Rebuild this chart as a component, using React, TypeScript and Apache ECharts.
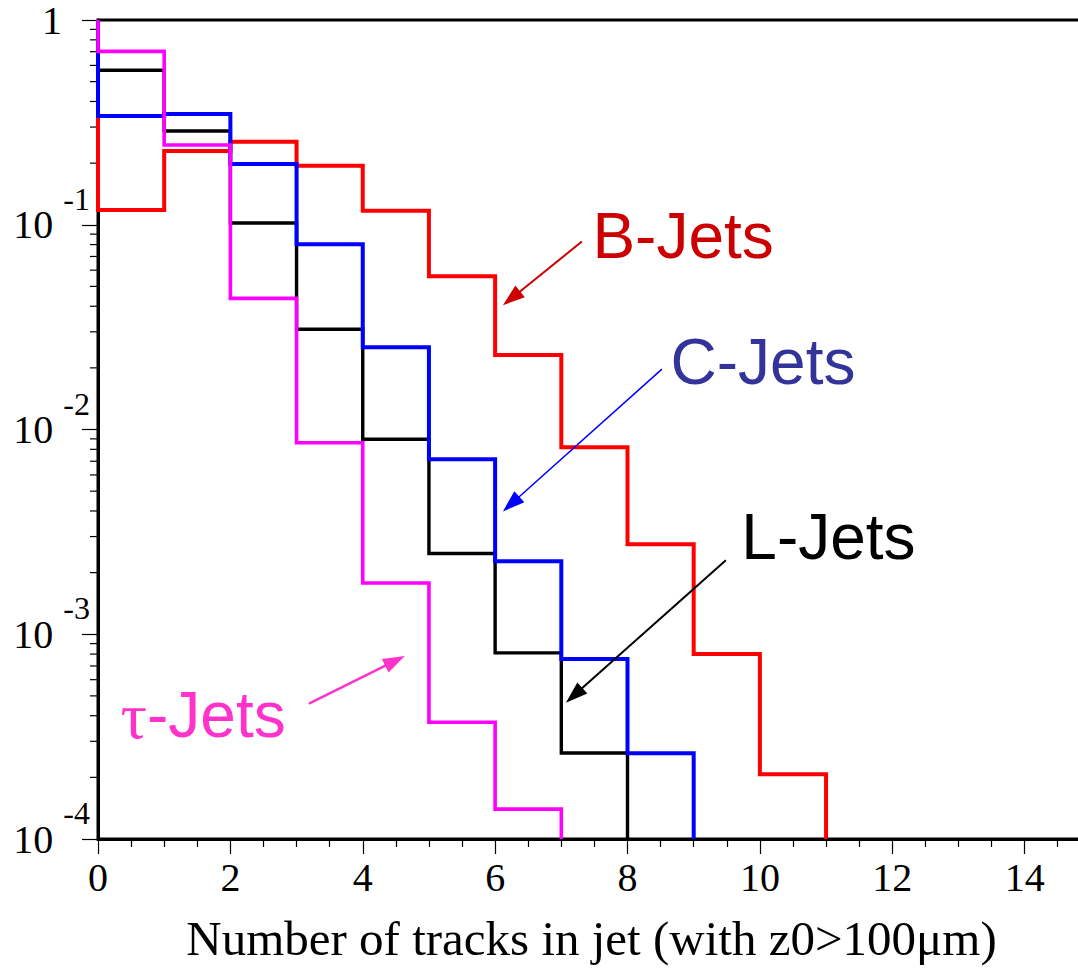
import React, { useEffect, useRef } from "react";
import * as echarts from "echarts";

// ---- Data: fraction of jets per bin (bin i covers [i, i+1) tracks) ----
const bJets = [0.118, 0.229, 0.254, 0.194, 0.117, 0.056, 0.0231, 0.00819, 0.00275, 0.000801, 0.000207];
const cJets = [0.34, 0.347, 0.198, 0.0803, 0.0252, 0.00716, 0.00227, 0.000758, 0.000262];
const lJets = [0.568, 0.287, 0.102, 0.0309, 0.00896, 0.00248, 0.000811, 0.000263];
const tauJets = [0.703, 0.245, 0.0437, 0.00861, 0.00178, 0.000372, 0.00014];

// ---- Axes ----
const xMin = 0;
const xMax = 16;
const xInterval = 2;
const yMin = 1e-4;
const yMax = 1;
const yDecades = [-4, -3, -2, -1];
const yMinorMultipliers = [2, 3, 4, 5, 6, 7, 8, 9];
const xTitle = "Number of tracks in jet (with z0>100\u03bcm)";

// ---- Annotations (data coords: x, log10 y) ----
const annotations = [
  { label: "B-Jets", color: "#cc0000", arrowColor: "#cc0000", lw: 2, text: [7.47, -1.053], from: [7.311, -1.082], to: [6.118, -1.393] },
  { label: "C-Jets", color: "#333399", arrowColor: "#0000ff", lw: 1.5, text: [8.65, -1.668], from: [8.52, -1.705], to: [6.118, -2.4] },
  { label: "L-Jets", color: "#000000", arrowColor: "#000000", lw: 2, text: [9.72, -2.527], from: [9.486, -2.639], to: [7.069, -3.334] },
  { label: "\u03c4-Jets", color: "#ff33cc", arrowColor: "#ff33cc", lw: 2.5, text: [0.34, -3.395], from: [3.187, -3.339], to: [4.637, -3.106] },
];

function stepPoints(values: number[]): number[][] {
  const pts: number[][] = [[xMin, yMax]];
  values.forEach((v, i) => {
    pts.push([xMin + i, v]);
    pts.push([xMin + i + 1, v]);
  });
  pts.push([xMin + values.length, yMin]);
  return pts;
}

const yMinorTicks: number[] = [];
yDecades.forEach((d) => yMinorMultipliers.forEach((m) => yMinorTicks.push(m * Math.pow(10, d))));

const serif = "Liberation Serif";
const sans = "Liberation Sans";

function lineSeries(name: string, values: number[], color: string, width: number) {
  return {
    type: "line",
    name,
    data: stepPoints(values),
    showSymbol: false,
    symbol: "none",
    clip: false,
    lineStyle: { color, width, join: "miter", cap: "butt" },
    silent: true,
  };
}

export default function App() {
  const ref = useRef<HTMLDivElement>(null);
  useEffect(() => {
    const chart = echarts.init(ref.current!, undefined, { renderer: "svg" });
    const option: any = {
      animation: false,
      backgroundColor: "#ffffff",
      grid: { left: 98, right: 13, top: 20, bottom: 125, show: true, borderColor: "#000", borderWidth: 3, backgroundColor: "transparent" },
      xAxis: {
        type: "value",
        min: xMin,
        max: xMax,
        interval: xInterval,
        name: xTitle,
        nameLocation: "middle",
        nameGap: 75,
        nameTextStyle: { fontFamily: serif, fontSize: 49, color: "#000", padding: [0, 72, 0, 0] },
        axisLine: { show: true, lineStyle: { color: "#000", width: 3 } },
        axisTick: { show: true, length: 15, lineStyle: { color: "#000", width: 1.2 } },
        minorTick: { show: true, splitNumber: 4, length: 8, lineStyle: { color: "#000", width: 1.2 } },
        axisLabel: { fontFamily: serif, fontSize: 40, color: "#000", margin: 18, showMaxLabel: false },
        splitLine: { show: false },
      },
      yAxis: {
        type: "log",
        logBase: 10,
        min: yMin,
        max: yMax,
        axisLine: { show: true, lineStyle: { color: "#000", width: 3 } },
        axisTick: { show: true, length: 16, lineStyle: { color: "#000", width: 1.2 } },
        minorTick: { show: false },
        splitLine: { show: false },
        axisLabel: {
          margin: 8,
          formatter: (v: number) => {
            const e = Math.round(Math.log10(v));
            if (e === 0) return "{one|1}";
            return "{b|10}{e|" + e + "}";
          },
          rich: {
            one: { fontFamily: serif, fontSize: 40, color: "#000", lineHeight: 36, padding: [0, 28, 0, 0] },
            b: { fontFamily: serif, fontSize: 40, color: "#000", lineHeight: 84 },
            e: { fontFamily: serif, fontSize: 32, color: "#000", lineHeight: 32, verticalAlign: "top", padding: [0, 0, 0, 10] },
          },
        },
      },
      series: [
        {
          type: "custom",
          name: "yMinorTicks",
          data: yMinorTicks.map((v) => [xMin, v]),
          clip: false,
          silent: true,
          renderItem: (_p: any, api: any) => {
            const p = api.coord([api.value(0), api.value(1)]);
            return {
              type: "line",
              shape: { x1: p[0] - 8, y1: p[1], x2: p[0], y2: p[1] },
              style: { stroke: "#000", lineWidth: 1.2 },
            };
          },
        },
        lineSeries("B-Jets", bJets, "#ff0000", 4),
        lineSeries("L-Jets", lJets, "#000000", 3.4),
        lineSeries("C-Jets", cJets, "#0000ff", 4),
        lineSeries("tau-Jets", tauJets, "#ff00ff", 3.6),
      ],
    };
    chart.setOption(option);

    const toPx = (pt: number[]) => chart.convertToPixel({ gridIndex: 0 } as any, [pt[0], Math.pow(10, pt[1])]) as number[];
    const graphics: any[] = [];
    annotations.forEach((a) => {
      const t = toPx(a.text);
      const f = toPx(a.from);
      const to = toPx(a.to);
      const dx = to[0] - f[0];
      const dy = to[1] - f[1];
      const len = Math.sqrt(dx * dx + dy * dy);
      const ux = dx / len;
      const uy = dy / len;
      const hl = 22;
      const hw = 7.5;
      const bx = to[0] - ux * hl;
      const by = to[1] - uy * hl;
      graphics.push({
        type: "line",
        shape: { x1: f[0], y1: f[1], x2: bx + ux * 2, y2: by + uy * 2 },
        style: { stroke: a.arrowColor, lineWidth: a.lw },
        z: 100,
      });
      graphics.push({
        type: "polygon",
        shape: { points: [[to[0], to[1]], [bx - uy * hw, by + ux * hw], [bx + uy * hw, by - ux * hw]] },
        style: { fill: a.arrowColor },
        z: 100,
      });
      const isTau = a.label.charAt(0) === "\u03c4";
      graphics.push({
        type: "text",
        x: t[0],
        y: t[1],
        z: 100,
        style: {
          text: isTau ? "{t|\u03c4}{j|-Jets}" : a.label,
          fill: a.color,
          font: "64px '" + sans + "'",
          align: "left",
          verticalAlign: "middle",
          textAlign: "left",
          textVerticalAlign: "middle",
          rich: isTau
            ? {
                t: { fontFamily: serif, fontSize: 66, fill: a.color, color: a.color },
                j: { fontFamily: sans, fontSize: 64, fill: a.color, color: a.color },
              }
            : undefined,
        },
      });
    });
    chart.setOption({ graphic: graphics });
    return () => chart.dispose();
  }, []);
  return (
    <div style={{ position: "absolute", left: 0, top: 0, width: 1078, height: 968, overflow: "hidden", background: "#fff" }}>
      <div ref={ref} style={{ width: 1170, height: 968 }} />
    </div>
  );
}
